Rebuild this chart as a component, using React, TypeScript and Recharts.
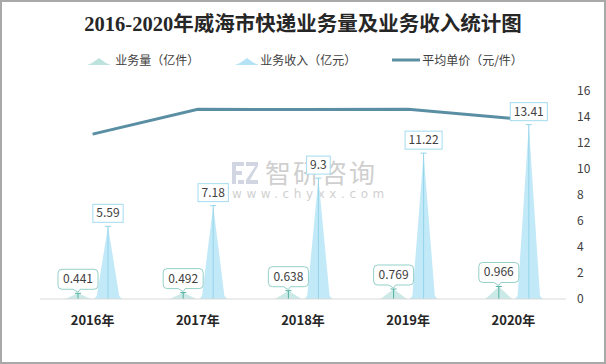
import { Bar, ComposedChart, LabelList, Legend, Line, XAxis, YAxis } from 'recharts';

const years = ['2016年', '2017年', '2018年', '2019年', '2020年'];
const volume = [0.441, 0.492, 0.638, 0.769, 0.966];
const revenue = [5.59, 7.18, 9.3, 11.22, 13.41];
const unitPrice = [12.68, 14.59, 14.58, 14.59, 13.88];
const rightTicks = [0, 2, 4, 6, 8, 10, 12, 14, 16];

const data = years.map((year, i) => ({
    year,
    volume: volume[i],
    revenue: revenue[i],
    price: unitPrice[i],
}));

const FONT = '"Noto Sans CJK SC", "Noto Sans", sans-serif';

const VOL_FILL = '#cbe9e6';
const VOL_LINE = '#4fb1a2';
const VOL_BORDER = '#93d0c8';
const REV_FILL = '#c2e9f8';
const REV_LINE = '#94d4ea';
const REV_BORDER = '#a3dbf0';
const PRICE_COLOR = '#5a8fa3';

function textWidth(s: string) {
    let w = 0;
    for (const ch of s) w += ch === '.' ? 3.2 : 6.7;
    return w;
}

// pointed triangle with a thin centre line and a small cap at the top
function makeSpike(fill: string, line: string) {
    return (props: any) => {
        const { x, y, width, height } = props;
        if (height == null || height <= 0) return null;
        const cx = x + width / 2;
        const base = y + height;
        const foot = Math.min(3, height * 0.15);
        const d = `M${x},${base} L${x + width * 0.1},${base - foot} L${cx},${y} L${x + width * 0.9},${base - foot} L${x + width},${base} Z`;
        return (
            <g>
                <path d={d} fill={fill} />
                <line x1={cx} y1={y} x2={cx} y2={base} stroke={line} strokeWidth={1} />
                <line x1={cx - 3} y1={y} x2={cx + 3} y2={y} stroke={line} strokeWidth={1} />
            </g>
        );
    };
}

function revenueLabel(props: any) {
    const { x, y, width, value } = props;
    const cx = x + width / 2;
    const txt = String(value);
    const w = textWidth(txt) + 7;
    const h = 18;
    const top = y - 4 - h;
    return (
        <g>
            <rect x={cx - w / 2} y={top} width={w} height={h} fill="#fff" stroke={REV_BORDER} strokeWidth={1} />
            <text x={cx} y={top + h / 2 + 4} textAnchor="middle" fontSize={12} fontFamily={FONT} fill="#404040">
                {txt}
            </text>
        </g>
    );
}

function volumeLabel(props: any) {
    const { x, y, width, value } = props;
    const cx = x + width / 2;
    const txt = String(value);
    const w = textWidth(txt) + 10;
    const h = 20;
    const bottom = y - 4;
    const top = bottom - h;
    const l = cx - w / 2;
    const r = cx + w / 2;
    const rad = 4;
    const d = [
        `M${l + rad},${top}`,
        `L${r - rad},${top}`,
        `Q${r},${top} ${r},${top + rad}`,
        `L${r},${bottom - rad}`,
        `Q${r},${bottom} ${r - rad},${bottom}`,
        `L${cx + 2},${bottom}`,
        `L${cx},${y - 1}`,
        `L${cx - 5},${bottom}`,
        `L${l + rad},${bottom}`,
        `Q${l},${bottom} ${l},${bottom - rad}`,
        `L${l},${top + rad}`,
        `Q${l},${top} ${l + rad},${top}`,
        'Z',
    ].join(' ');
    return (
        <g>
            <path d={d} fill="#fff" stroke={VOL_BORDER} strokeWidth={1} />
            <text x={cx} y={top + h / 2 + 4} textAnchor="middle" fontSize={12} fontFamily={FONT} fill="#404040">
                {txt}
            </text>
        </g>
    );
}

function LegendContent() {
    const item = { display: 'flex', alignItems: 'center' } as const;
    const label = { fontSize: 12, color: '#404040', fontFamily: FONT, lineHeight: '14px' };
    return (
        <div style={{ display: 'flex', justifyContent: 'center', alignItems: 'center', gap: 36, paddingLeft: 4 }}>
            <div style={item}>
                <svg width={24} height={12} style={{ marginRight: 4 }}>
                    <path d="M0,11 L5,9 L12,4 L19,9 L24,11 Z" fill="#bde3df" />
                </svg>
                <span style={label}>业务量（亿件）</span>
            </div>
            <div style={item}>
                <svg width={24} height={12} style={{ marginRight: 1 }}>
                    <path d="M0,11 L5,9 L12,4 L19,9 L24,11 Z" fill="#b5e3f5" />
                </svg>
                <span style={label}>业务收入（亿元）</span>
            </div>
            <div style={item}>
                <svg width={28} height={10} style={{ marginRight: 2 }}>
                    <line x1={0} y1={5} x2={28} y2={5} stroke={PRICE_COLOR} strokeWidth={3} />
                </svg>
                <span style={label}>平均单价（元/件）</span>
            </div>
        </div>
    );
}

export default function App() {
    return (
        <div style={{ position: 'absolute', left: 0, top: 0, width: 606, height: 364, background: '#fff', overflow: 'hidden' }}>
            <div
                style={{
                    position: 'absolute', left: 0, top: 12, width: 606, textAlign: 'center',
                    fontFamily: '"Liberation Serif", "Noto Sans CJK SC", serif', fontWeight: 'bold', fontSize: 20.5,
                    color: '#262626', lineHeight: '24px',
                }}
            >
                2016-2020年威海市快递业务量及业务收入统计图
            </div>

            {/* watermark */}
            <div style={{ position: 'absolute', left: 232, top: 160, opacity: 0.4 }}>
                <svg width={28} height={24} style={{ position: 'absolute', left: 0, top: 2 }}>
                    <rect x={0} y={0} width={12} height={4} fill="#8e9bb8" />
                    <rect x={0} y={0} width={4} height={22} fill="#8e9bb8" />
                    <rect x={0} y={9} width={10} height={4} fill="#8e9bb8" />
                    <rect x={14} y={0} width={12} height={4} fill="#8e9bb8" />
                    <path d="M26,0 L26,4 L18,18 L14,18 Z" fill="#8e9bb8" />
                    <rect x={14} y={18} width={12} height={4} fill="#8e9bb8" />
                    <rect x={6} y={18} width={6} height={4} fill="#8e9bb8" />
                </svg>
                <div style={{ position: 'absolute', left: 33, top: -3, fontSize: 26, letterSpacing: 2, color: '#8a8a8a', fontFamily: FONT, whiteSpace: 'nowrap', lineHeight: '30px' }}>
                    智研咨询
                </div>
                <div style={{ position: 'absolute', left: 0, top: 27, fontSize: 12, letterSpacing: 4.6, color: '#8a8a8a', fontFamily: '"DejaVu Sans", sans-serif', whiteSpace: 'nowrap', lineHeight: '14px' }}>
                    www.chyxx.com
                </div>
            </div>

            <div style={{ position: 'absolute', left: 0, top: 0 }}>
                <ComposedChart
                    width={606}
                    height={364}
                    data={data}
                    margin={{ top: 77, right: 0, left: 40, bottom: 30 }}
                    barSize={28}
                    barGap={2}
                >
                    <Legend
                        verticalAlign="top"
                        content={<LegendContent />}
                        wrapperStyle={{ top: 53, left: 0, width: 606 }}
                    />
                    <XAxis
                        dataKey="year"
                        tickLine={false}
                        axisLine={{ stroke: '#d9d9d9' }}
                        tickSize={0}
                        tickMargin={17}
                        tick={{ fill: '#262626', fontSize: 13, fontWeight: 'bold', fontFamily: FONT }}
                        height={35}
                    />
                    <YAxis
                        yAxisId="r"
                        orientation="right"
                        domain={[0, 16]}
                        ticks={rightTicks}
                        interval={0}
                        axisLine={false}
                        tickLine={false}
                        tickSize={0}
                        tickMargin={11}
                        width={40}
                        tick={{ fill: '#404040', fontSize: 12, fontFamily: FONT, textAnchor: 'start' }}
                    />
                    <Bar yAxisId="r" dataKey="volume" shape={makeSpike(VOL_FILL, VOL_LINE)} isAnimationActive={false}>
                        <LabelList dataKey="volume" content={volumeLabel} />
                    </Bar>
                    <Bar yAxisId="r" dataKey="revenue" shape={makeSpike(REV_FILL, REV_LINE)} isAnimationActive={false}>
                        <LabelList dataKey="revenue" content={revenueLabel} />
                    </Bar>
                    <Line
                        yAxisId="r"
                        type="linear"
                        dataKey="price"
                        stroke={PRICE_COLOR}
                        strokeWidth={3}
                        dot={false}
                        activeDot={false}
                        isAnimationActive={false}
                    />
                </ComposedChart>
            </div>

            <div style={{ position: 'absolute', left: 0, top: 0, width: 606, height: 364, boxSizing: 'border-box', border: '2px solid #a9a9a9', pointerEvents: 'none' }} />
        </div>
    );
}
